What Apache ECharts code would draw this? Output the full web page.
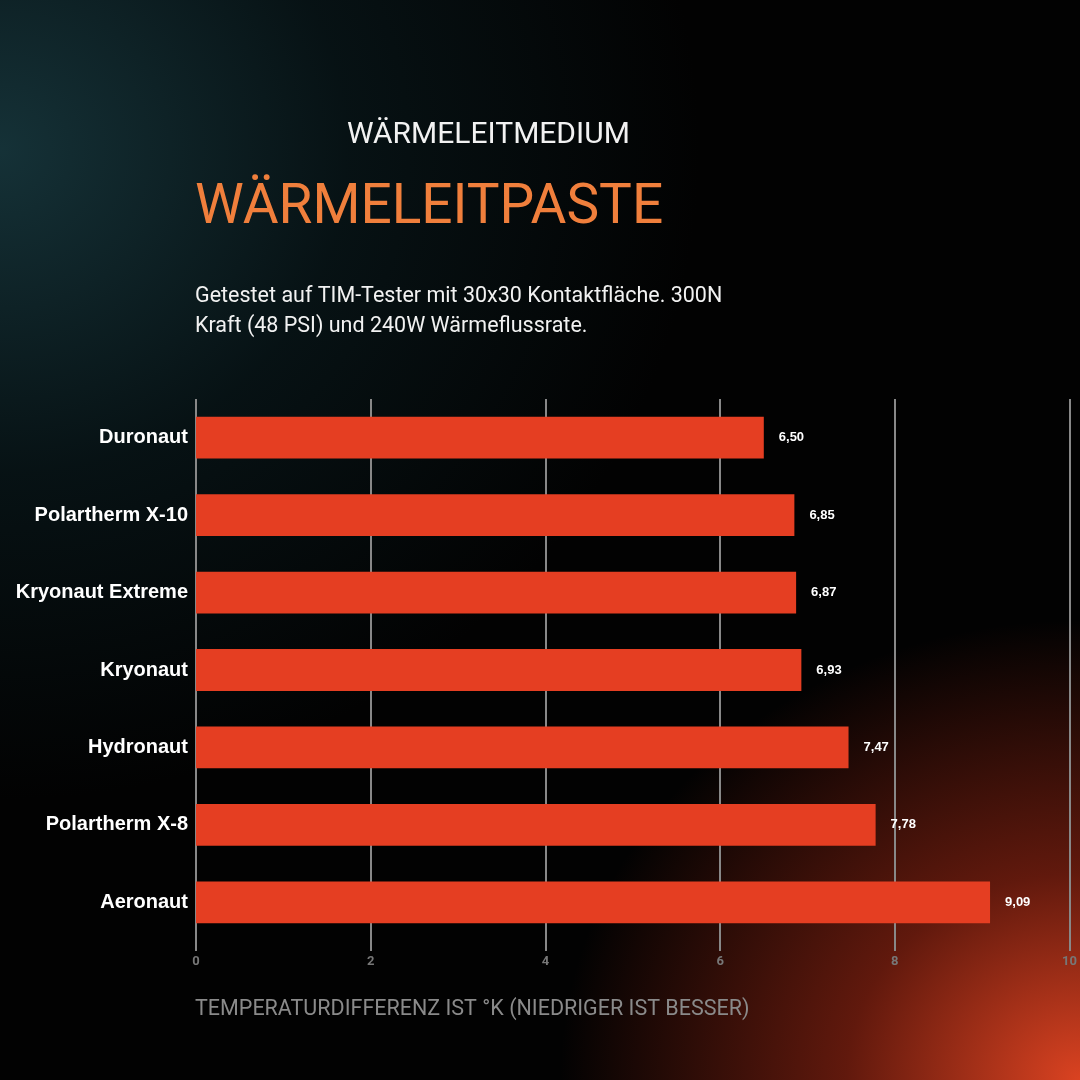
<!DOCTYPE html>
<html><head><meta charset="utf-8">
<script src="https://cdn.jsdelivr.net/npm/echarts@6/dist/echarts.min.js"></script>
<style>
html,body{margin:0;padding:0;width:1080px;height:1080px;overflow:hidden;}
body{background:
 radial-gradient(ellipse 520px 460px at 1080px 1080px, rgba(230,70,35,0.95) 0%, rgba(160,40,20,0.6) 45%, rgba(0,0,0,0) 100%),
 radial-gradient(ellipse 700px 650px at 0px 150px, rgba(22,52,58,0.95) 0%, rgba(10,28,32,0.6) 50%, rgba(0,0,0,0) 100%),
 #020202;}
#c{width:1080px;height:1080px;}
</style></head><body><div id="c"></div>
<script>
const categories = ['Duronaut','Polartherm X-10','Kryonaut Extreme','Kryonaut','Hydronaut','Polartherm X-8','Aeronaut'];
const values = [6.50, 6.85, 6.87, 6.93, 7.47, 7.78, 9.09];
const chart = echarts.init(document.getElementById('c'), null, {renderer:'canvas'});
chart.setOption({
  backgroundColor:'transparent',
  title:[
    {text:'WÄRMELEITMEDIUM', left:342, top:115, textStyle:{color:'#f2f2f2', fontSize:30, fontWeight:'normal', fontFamily:'Roboto'}},
    {text:'WÄRMELEITPASTE', left:190, top:177, textStyle:{color:'#f07f3c', fontSize:55, fontWeight:'normal', fontFamily:'Roboto'}},
    {text:'Getestet auf TIM-Tester mit 30x30 Kontaktfläche. 300N\nKraft (48 PSI) und 240W Wärmeflussrate.', left:190, top:277, textStyle:{color:'#f2f2f2', fontSize:21.5, fontWeight:'normal', fontFamily:'Roboto', lineHeight:30}},
    {text:'TEMPERATURDIFFERENZ IST °K (NIEDRIGER IST BESSER)', left:190, top:994, textStyle:{color:'#8a8a8a', fontSize:21.5, fontWeight:'normal', fontFamily:'Roboto'}}
  ],
  grid:{left:196, width:904, top:399, height:542, containLabel:false},
  xAxis:{type:'value', min:0, max:10, interval:2,
    axisLine:{show:false}, axisTick:{show:true, length:10, lineStyle:{color:'#888', width:2}},
    splitLine:{show:true, lineStyle:{color:'#888', width:2}},
    axisLabel:{color:'#777', fontSize:13, fontWeight:'bold', fontFamily:'Roboto', margin:14}},
  yAxis:{type:'category', data:categories, inverse:true,
    axisLine:{show:false}, axisTick:{show:false},
    axisLabel:{color:'#ffffff', fontSize:20, fontWeight:'bold', fontFamily:'Liberation Sans', margin:8}},
  series:[{type:'bar', data:values, barCategoryGap:'46%',
    itemStyle:{color:'#e53e22'},
    label:{show:true, position:'right', distance:15, color:'#fff', fontSize:13, fontWeight:'bold', fontFamily:'Liberation Sans',
      formatter:p=>p.value.toFixed(2).replace('.',',')}}]
});
</script></body></html>
